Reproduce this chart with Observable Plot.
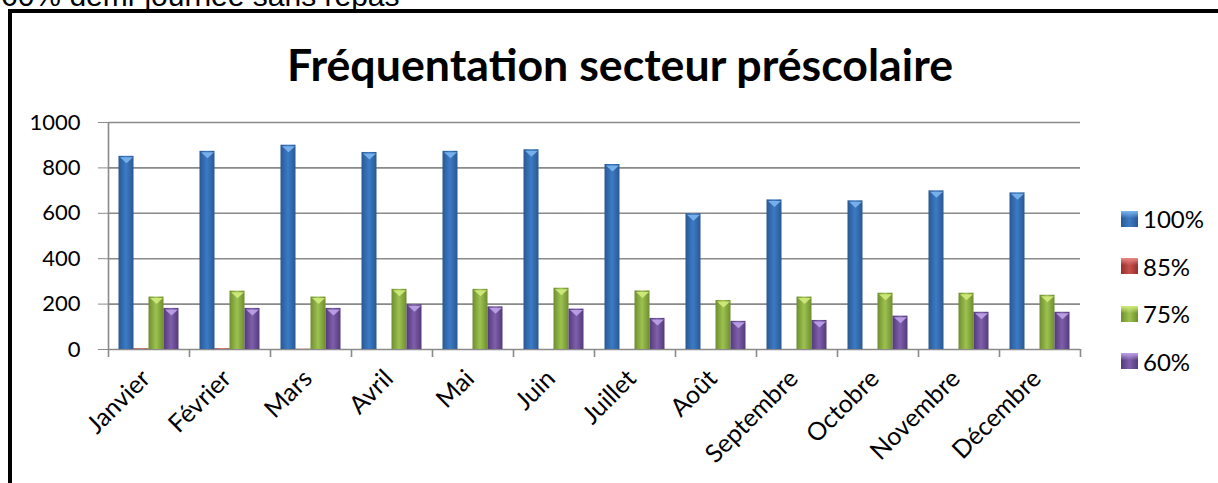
<!DOCTYPE html>
<html><head><meta charset="utf-8">
<script src="https://cdn.jsdelivr.net/npm/d3@7"></script>
<script src="https://cdn.jsdelivr.net/npm/@observablehq/plot@0.6"></script>
<style>
html,body{margin:0;padding:0;background:#fff;overflow:hidden;}
#page{position:relative;width:1218px;height:483px;overflow:hidden;font-family:Lato,sans-serif;}
#top{position:absolute;left:1px;top:-19.5px;font-family:"Liberation Sans",Arial,sans-serif;font-size:30px;line-height:30px;white-space:nowrap;color:#000;}
#box{position:absolute;left:8px;top:9px;width:1400px;height:600px;border:4px solid #000;box-sizing:border-box;}
#title{position:absolute;left:11px;width:1218px;top:37px;text-align:center;font-weight:bold;font-size:44.7px;line-height:54px;color:#000;}
#chart{position:absolute;left:0;top:0;}
#legend{position:absolute;left:1121px;top:195px;font-size:24px;}
.li{display:flex;align-items:center;height:47.5px;}
.sw{width:17px;height:16px;margin-right:5px;box-sizing:border-box;}
</style></head>
<body><div id="page">
<div id="top">60% demi-journée sans repas</div>
<div id="box"></div>
<div id="chart"></div>
<div id="title">Fréquentation secteur préscolaire</div>
<div id="legend"></div>
</div>
<script>
const months = ["Janvier","Février","Mars","Avril","Mai","Juin","Juillet","Août","Septembre","Octobre","Novembre","Décembre"];
const series = ["100%","85%","75%","60%"];
const v100 = [851,873,900,868,873,880,815,598,659,655,699,690];
const v85  = [3,3,1,0,0,0,0,0,0,0,0,0];
const v75  = [231,257,231,265,265,270,258,216,231,248,248,239];
const v60  = [181,181,181,197,188,178,137,124,128,147,164,164];
const yTicks = [0,200,400,600,800,1000];
const colors = {
  "100%": ["#2a5892","#3b7bc6","#2a5892","#7db6f0"],
  "85%":  ["#94302d","#c8504c","#94302d","#e88a86"],
  "75%":  ["#6e8d30","#9dc24f","#6e8d30","#d2ec7c"],
  "60%":  ["#533a7a","#7e5fab","#533a7a","#c0a4ea"]
};
const values = [v100, v85, v75, v60];
const rows = series.map((s, si) => months.map((m, mi) => ({month: m, series: s, value: values[si][mi]})));

const W = 1218, H = 483, ML = 108, MR = 138, MT = 122, MB = 134;
const band = (W - ML - MR) / months.length;
const barW = 15, off = (band - barW * 4) / 2;
const grid = "#8a8a8a";

// downward bevel chevron drawn at the top of each bar
const chevron = {draw(ctx) { ctx.moveTo(-barW / 2 + 1, 1); ctx.lineTo(barW / 2 - 1, 1); ctx.lineTo(0, 7); ctx.closePath(); }};

const marks = [
  Plot.ruleY(yTicks, {stroke: grid, strokeWidth: 1.6}),
  Plot.ruleX([months[0]], {dx: -band / 2, y1: 0, y2: 1000, stroke: grid, strokeWidth: 1.6}),
  Plot.ruleX(months, {dx: -band / 2, y1: 0, y2: 0, insetBottom: -8, stroke: grid, strokeWidth: 1.6}),
  Plot.ruleX([months[months.length - 1]], {dx: band / 2, y1: 0, y2: 0, insetBottom: -8, stroke: grid, strokeWidth: 1.6}),
  ...series.map((s, i) => Plot.barY(rows[i], {
    x: "month", y: "value",
    fill: `url(#grad${i})`,
    insetLeft: off + i * barW,
    insetRight: band - off - (i + 1) * barW
  })),
  ...series.map((s, i) => Plot.dot(rows[i].filter(d => d.value > 20), {
    x: "month", y: "value",
    symbol: chevron, r: 4,
    fill: colors[s][3], fillOpacity: 0.9, stroke: "none",
    dx: off + i * barW + barW / 2 - band / 2
  })),
  Plot.axisY(yTicks, {tickSize: 10, tickPadding: 18, stroke: grid, fill: "#000", fontSize: 22, tickFormat: d => String(d)}),
  Plot.axisX({tickSize: 0, tickRotate: -45, tickPadding: 25, dx: -3, fill: "#000", fontSize: 25, label: null})
];

const svg = Plot.plot({
  width: W, height: H,
  marginLeft: ML, marginRight: MR, marginTop: MT, marginBottom: MB,
  style: {fontFamily: "Lato, sans-serif", background: "transparent", overflow: "visible"},
  x: {domain: months, padding: 0, label: null, axis: null},
  y: {domain: [0, 1000], label: null, axis: null},
  marks
});

const ns = "http://www.w3.org/2000/svg";
const defs = document.createElementNS(ns, "defs");
series.forEach((s, i) => {
  const g = document.createElementNS(ns, "linearGradient");
  g.setAttribute("id", "grad" + i);
  g.setAttribute("x1", "0"); g.setAttribute("x2", "1"); g.setAttribute("y1", "0"); g.setAttribute("y2", "0");
  [[0, colors[s][0]], [0.5, colors[s][1]], [1, colors[s][2]]].forEach(([o, c]) => {
    const st = document.createElementNS(ns, "stop");
    st.setAttribute("offset", o); st.setAttribute("stop-color", c);
    g.appendChild(st);
  });
  defs.appendChild(g);
});
svg.insertBefore(defs, svg.firstChild);
document.getElementById("chart").appendChild(svg);

const leg = document.getElementById("legend");
series.forEach((s, i) => {
  const d = document.createElement("div"); d.className = "li";
  const sw = document.createElement("div"); sw.className = "sw";
  sw.style.background = `linear-gradient(180deg, ${colors[s][3]} 0%, transparent 45%), linear-gradient(90deg, ${colors[s][0]}, ${colors[s][1]}, ${colors[s][2]})`;
  const t = document.createElement("span"); t.textContent = s;
  d.appendChild(sw); d.appendChild(t); leg.appendChild(d);
});
</script>
</body></html>
